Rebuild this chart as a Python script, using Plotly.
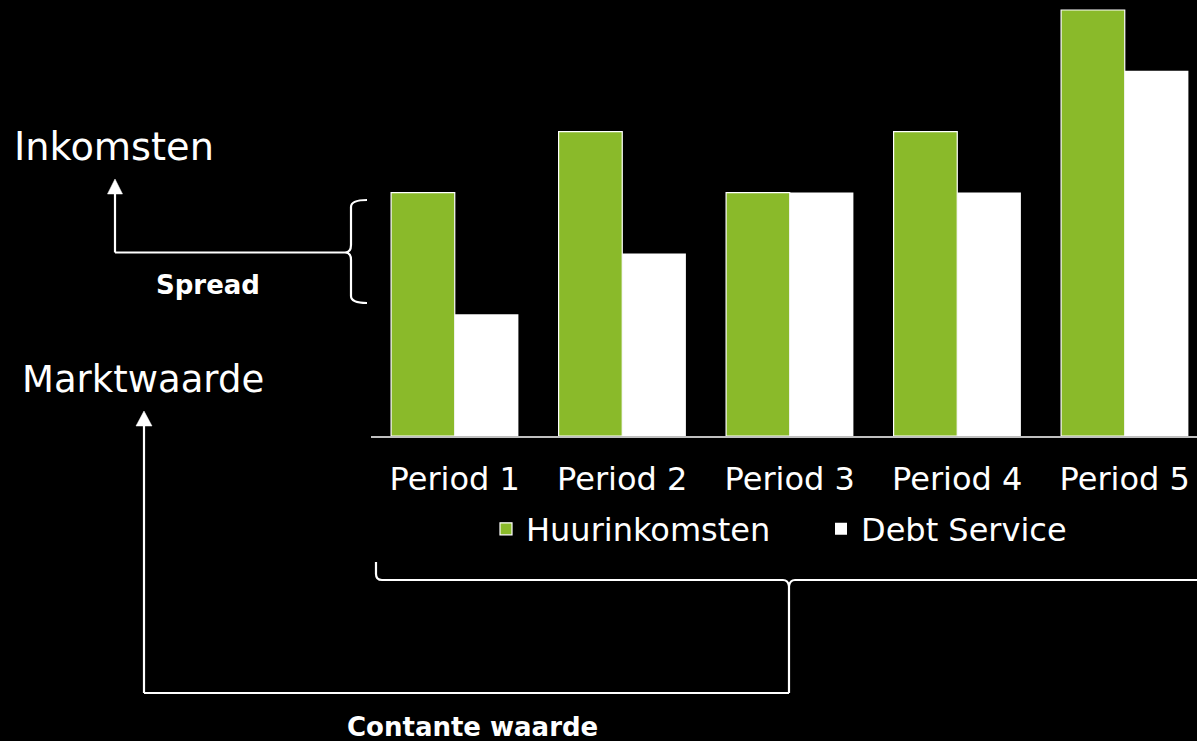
import plotly.graph_objects as go

categories = ["Period 1", "Period 2", "Period 3", "Period 4", "Period 5"]
huurinkomsten = [4, 5, 4, 5, 7]
debt_service = [2, 3, 4, 4, 6]
series_names = ["Huurinkomsten", "Debt Service"]

W, H = 1197, 741
L, R_EDGE, T, B = 371, 1197, 0, 436  # plot area in pixels
PW, PH = R_EDGE - L, B - T

def px(x):
    return (x - L) / PW

def py(y):
    return (B - y) / PH

GREEN = "#8aba2a"
FONT = "DejaVu Sans, Verdana, sans-serif"

fig = go.Figure()
fig.add_trace(go.Bar(x=categories, y=huurinkomsten, name=series_names[0],
                     marker=dict(color=GREEN, line=dict(color="white", width=1.2))))
fig.add_trace(go.Bar(x=categories, y=debt_service, name=series_names[1],
                     marker=dict(color="white", line=dict(color="white", width=0))))

cat_w = 167.5
fig.update_layout(
    width=W, height=H,
    paper_bgcolor="black", plot_bgcolor="black",
    margin=dict(l=L, r=W - R_EDGE, t=T, b=H - B, pad=0),
    barmode="group", bargap=0.24, bargroupgap=0,
    font=dict(family=FONT, color="white", size=32),
    showlegend=True,
    legend=dict(orientation="h", x=px(821), xanchor="center", y=py(529), yanchor="middle",
                font=dict(size=32, color="white"), bgcolor="rgba(0,0,0,0)",
                itemwidth=30, traceorder="normal", entrywidth=290, entrywidthmode="pixels"),
    xaxis=dict(range=[-0.5, -0.5 + PW / cat_w], showgrid=False, zeroline=False,
               showline=True, linecolor="#bfbfbf", linewidth=2,
               ticks="", tickfont=dict(size=32, color="white"), ticklabelstandoff=14),
    yaxis=dict(range=[0, 436 / 60.86], showgrid=False, zeroline=False, showline=False,
               showticklabels=False, ticks=""),
)

LW = 2.2
line = dict(color="white", width=LW)

def seg(x0, y0, x1, y1):
    fig.add_shape(type="line", xref="paper", yref="paper",
                  x0=px(x0), y0=py(y0), x1=px(x1), y1=py(y1), line=line)

def path(points_cmds):
    fig.add_shape(type="path", xref="paper", yref="paper", path=points_cmds, line=line)

def P(x, y):
    return f"{px(x):.5f},{py(y):.5f}"

def tri(tx, ty, half, h):
    fig.add_shape(type="path", xref="paper", yref="paper",
                  path=f"M {P(tx, ty)} L {P(tx - half, ty + h)} L {P(tx + half, ty + h)} Z",
                  fillcolor="white", line=dict(color="white", width=0.5))

# Inkomsten connector
seg(115, 252.5, 115, 193)
seg(115, 252.5, 345, 252.5)
tri(115, 179, 7.5, 15)
# Left brace
path(f"M {P(367, 200)} Q {P(351, 200)} {P(351, 207)} L {P(351, 245)} "
     f"Q {P(351, 252.5)} {P(345, 252.5)} Q {P(351, 252.5)} {P(351, 260)} "
     f"L {P(351, 296)} Q {P(351, 303)} {P(367, 303)}")

# Marktwaarde connector
seg(144, 693, 144, 424)
seg(144, 693, 789, 693)
seg(789, 693, 789, 586)
tri(144, 411, 8, 15)
# Bottom brace
path(f"M {P(376, 562)} L {P(376, 574)} Q {P(376, 580)} {P(382, 580)} "
     f"L {P(783, 580)} Q {P(788, 580)} {P(789, 586)} Q {P(790, 580)} {P(795, 580)} "
     f"L {P(1200, 580)}")

def text(t, x, y, size, bold=False, xanchor="left"):
    fig.add_annotation(text=f"<b>{t}</b>" if bold else t, xref="paper", yref="paper",
                       x=px(x), y=py(y), xanchor=xanchor, yanchor="middle",
                       showarrow=False, font=dict(size=size, color="white", family=FONT))

text("Inkomsten", 12, 146, 38.3)
text("Marktwaarde", 20, 379, 37)
text("Spread", 208, 285, 26, bold=True, xanchor="center")
text("Contante waarde", 472, 727, 26, bold=True, xanchor="center")

fig.write_html("out.html", config={"displayModeBar": False},
               post_script="document.body.style.margin='0';document.body.style.overflow='hidden';")
